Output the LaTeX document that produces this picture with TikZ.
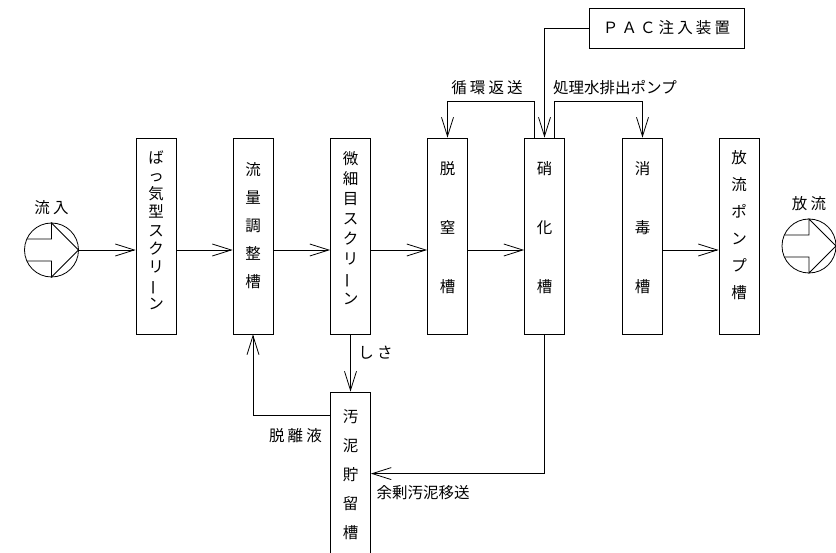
\documentclass[tikz,border=0pt]{standalone}
\usepackage{fontspec}
\usepackage{graphicx}
\setmainfont{Noto Sans CJK JP}
\newfontfamily\spaced[LetterSpace=20]{Noto Sans CJK JP}
\usetikzlibrary{arrows.meta}
\tikzset{
	tank/.style={draw, minimum width=40pt, minimum height=196pt, inner sep=0pt},
	vt/.style={align=center, inner sep=0pt, font=\fontsize{15.5pt}{#1}\selectfont},
	flow/.style={-{Straight Barb[length=19pt,width=12pt]}},
	lbl/.style={inner sep=0pt, font=\fontsize{15.5pt}{18pt}\selectfont},
	wide/.style={inner sep=0pt, font=\spaced\fontsize{15.5pt}{18pt}\selectfont},
	flowsym/.style={draw, circle, minimum size=54pt, inner sep=0pt}
}
\newcommand{\tatebar}{\rotatebox[origin=c]{90}{ー}}

\begin{document}
\begin{tikzpicture}[x=1pt, y=-1pt, line width=0.8pt]
	\useasboundingbox (0,0) rectangle (836,553);
	
	% 流入・放流
	\node[flowsym, label={[wide, label distance=7pt]above:流入}] (in) at (51.5,250) {};
	\node[flowsym, label={[wide, label distance=7pt]above:放流}] (out) at (809,246) {};
	\foreach \c in {in,out}
	\draw[shift={(\c.center)}] (-24.7,-11) -- (0,-11) -- (0,-27) -- (27,0) -- (0,27) -- (0,11) -- (-24.7,11);
	
	% 処理槽
	\node[tank, label={[vt=18.25pt, yshift=6pt]center:{ば\\っ\\気\\型\\ス\\ク\\リ\\\tatebar\\ン}}] (b1) at (156,236) {};
	\node[tank, label={[vt=28pt, yshift=10pt]center:{流\\量\\調\\整\\槽}}] (b2) at (253,236) {};
	\node[tank, label={[vt=19.9pt, yshift=8pt]center:{微\\細\\目\\ス\\ク\\リ\\\tatebar\\ン}}] (b3) at (350.5,236) {};
	\node[tank, label={[vt=59pt, yshift=8pt]center:{脱\\窒\\槽}}] (b4) at (447.5,236) {};
	\node[tank, label={[vt=59pt, yshift=8pt]center:{硝\\化\\槽}}] (b5) at (544.5,236) {};
	\node[tank, label={[vt=59pt, yshift=8pt]center:{消\\毒\\槽}}] (b6) at (642.5,236) {};
	\node[tank, label={[vt=27pt, yshift=11pt]center:{放\\流\\ポ\\ン\\プ\\槽}}] (b7) at (739,236) {};
	\node[tank, label={[vt=29pt, yshift=15.5pt]center:{汚\\泥\\貯\\留\\槽}}] (sl) at (350.5,490) {};
	\node[draw, minimum width=155pt, minimum height=40pt, inner sep=0pt, font=\spaced\fontsize{15.5pt}{18pt}\selectfont] (pac) at (666.5,28) {ＰＡＣ注入装置};
	
	% 本流
	\coordinate (fl) at (0,250);
	\draw[flow] (in.east) -- (b1.west |- fl);
	\foreach \a/\b in {b1/b2, b2/b3, b3/b4, b4/b5, b6/b7}
	\draw[flow] (\a.east |- fl) -- (\b.west |- fl);
	
	% 上部の返送
	\draw[flow] ([xshift=-10pt]b5.north) -- ++(0,-36) -| (b4.north);
	\draw[flow] ([xshift=10pt]b5.north) -- ++(0,-36) -| (b6.north);
	\draw[flow] (pac.west) -| (b5.north);
	\node[wide] (l1) at (487,88) {循環返送};
	\node[lbl] (l2) at (615,88) {処理水排出ポンプ};
	
	% 汚泥系
	\draw[flow] (b3.south) -- (sl.north);
	\draw[flow] ([yshift=-24pt]sl.north west) -| (b2.south);
	\draw[flow] (b5.south) |- ([yshift=-82pt]sl.north east);
	\node[wide] (l3) at (375.5,353) {しさ};
	\node[wide] (l4) at (295.5,436) {脱離液};
	\node[lbl] (l5) at (423,493) {余剰汚泥移送};
\end{tikzpicture}
\end{document}
